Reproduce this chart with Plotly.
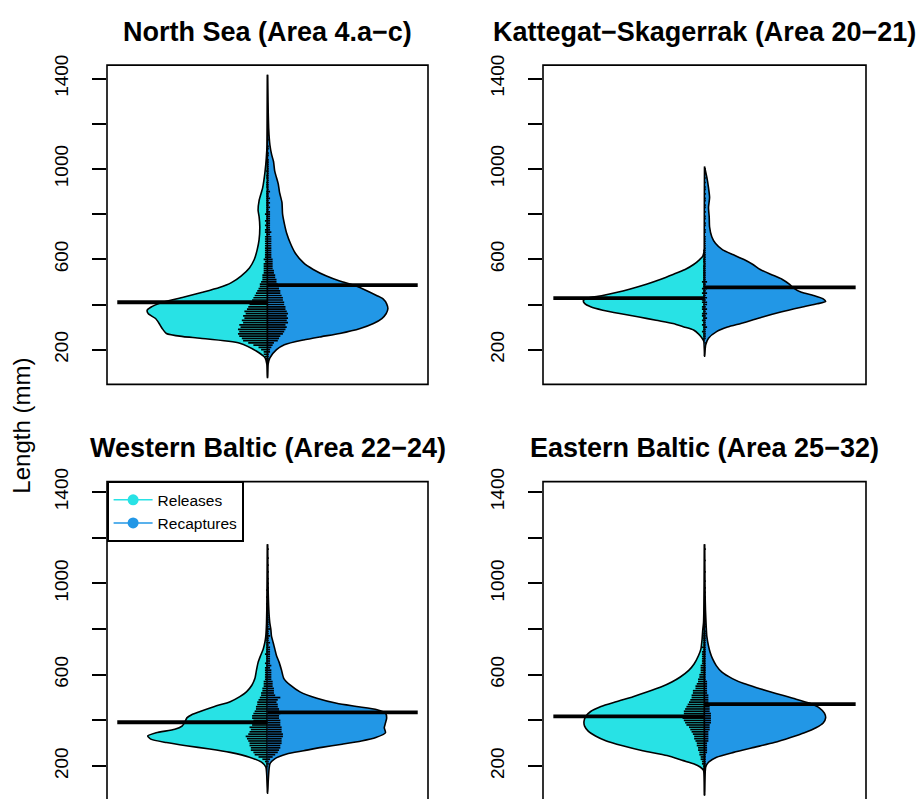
import plotly.graph_objects as go

FONT = "Liberation Sans, Arial, sans-serif"
RELEASE_COLOR = "#28E2E5"
RECAPTURE_COLOR = "#2297E6"

panel_titles = [
    "North Sea (Area 4.a\u2212c)",
    "Kattegat\u2212Skagerrak (Area 20\u221221)",
    "Western Baltic (Area 22\u221224)",
    "Eastern Baltic (Area 25\u221232)",
]
tick_values = [200, 400, 600, 800, 1000, 1200, 1400]
tick_labels = ["200", "", "600", "", "1000", "", "1400"]
y_title = "Length (mm)"
series_names = ["Releases", "Recaptures"]

# ---- bean density outlines: length (mm) and relative density ----
ns_rel_len = [77, 135, 164, 193, 229, 251, 258, 272, 294, 316, 338, 359, 374, 388, 410, 432, 454, 475, 497, 526,
              562, 599, 642, 686, 743, 790, 816, 859, 917, 990, 1048, 1106, 1200, 1417]
ns_rel_den = [0, 0.005, 0.02, 0.09, 0.23, 0.56, 0.70, 0.84, 0.875, 0.90, 0.93, 0.99, 1.0, 0.97, 0.87, 0.70, 0.54,
              0.40, 0.30, 0.22, 0.15, 0.11, 0.086, 0.07, 0.064, 0.07, 0.078, 0.07, 0.04, 0.02, 0.01, 0.004, 0.002, 0]
ns_rec_len = [77, 135, 164, 200, 222, 243, 258, 272, 294, 316, 338, 359, 381, 403, 425, 439, 461, 483, 504, 526,
              555, 584, 628, 671, 714, 758, 801, 852, 896, 932, 961, 990, 1033, 1062, 1106, 1178, 1300, 1417]
ns_rec_den = [0, 0.005, 0.02, 0.075, 0.14, 0.30, 0.45, 0.60, 0.77, 0.88, 0.95, 0.985, 1.0, 0.99, 0.96, 0.91, 0.825,
              0.73, 0.60, 0.49, 0.38, 0.30, 0.23, 0.19, 0.16, 0.14, 0.125, 0.12, 0.10, 0.09, 0.075, 0.06, 0.05,
              0.035, 0.02, 0.01, 0.004, 0]

ks_rel_len = [171, 236, 251, 270, 287, 301, 316, 330, 345, 360, 375, 390, 405, 418, 428, 439, 454, 468, 490, 512,
              533, 555, 577, 599, 613, 640]
ks_rel_den = [0, 0.005, 0.02, 0.05, 0.09, 0.17, 0.26, 0.40, 0.54, 0.70, 0.84, 0.94, 0.99, 1.0, 0.97, 0.85, 0.72,
              0.62, 0.48, 0.36, 0.26, 0.16, 0.09, 0.04, 0.015, 0]
ks_rec_len = [171, 222, 251, 280, 300, 316, 330, 345, 367, 388, 403, 413, 425, 440, 454, 475, 490, 512, 533, 555,
              577, 598, 620, 642, 671, 700, 743, 787, 830, 874, 917, 961, 1011]
ks_rec_den = [0, 0.01, 0.033, 0.10, 0.19, 0.30, 0.39, 0.48, 0.63, 0.80, 0.93, 1.0, 0.98, 0.90, 0.80, 0.73, 0.70,
              0.64, 0.55, 0.46, 0.40, 0.33, 0.24, 0.15, 0.09, 0.06, 0.042, 0.039, 0.033, 0.042, 0.033, 0.02, 0]

wb_rel_len = [81, 196, 217, 239, 260, 275, 289, 303, 318, 332, 346, 361, 375, 389, 411, 425, 439, 461, 482, 504,
              525, 554, 583, 619, 654, 683, 712, 741, 769, 827, 1000, 1171]
wb_rel_den = [0, 0.014, 0.05, 0.15, 0.31, 0.48, 0.675, 0.84, 0.97, 0.995, 0.925, 0.77, 0.71, 0.69, 0.67, 0.63,
              0.56, 0.44, 0.31, 0.23, 0.175, 0.13, 0.105, 0.092, 0.078, 0.058, 0.036, 0.022, 0.014, 0.008, 0.002, 0]
wb_rec_len = [81, 210, 232, 253, 267, 282, 296, 310, 325, 346, 368, 389, 411, 432, 447, 461, 475, 497, 525, 554,
              583, 619, 654, 683, 712, 741, 769, 798, 827, 884, 1000, 1171]
wb_rec_den = [0, 0.02, 0.06, 0.16, 0.30, 0.45, 0.62, 0.78, 0.90, 0.98, 0.97, 0.98, 0.99, 0.98, 0.91, 0.74, 0.575,
              0.41, 0.27, 0.19, 0.136, 0.117, 0.097, 0.075, 0.061, 0.047, 0.033, 0.028, 0.019, 0.011, 0.004, 0]

eb_rel_len = [74, 181, 196, 210, 224, 246, 267, 289, 310, 332, 353, 375, 396, 418, 439, 461, 482, 504, 525, 547,
              568, 590, 619, 647, 683, 712, 755, 798, 827, 1000, 1171]
eb_rel_den = [0, 0.008, 0.036, 0.09, 0.175, 0.31, 0.51, 0.675, 0.81, 0.90, 0.96, 0.99, 0.995, 0.98, 0.94, 0.855,
              0.73, 0.59, 0.47, 0.355, 0.27, 0.20, 0.13, 0.086, 0.05, 0.03, 0.02, 0.014, 0.008, 0.002, 0]
eb_rec_len = [74, 196, 217, 239, 260, 282, 303, 325, 346, 368, 389, 411, 432, 454, 475, 497, 518, 540, 561, 583,
              611, 640, 669, 697, 726, 769, 812, 884, 999, 1171]
eb_rec_den = [0, 0.01, 0.033, 0.10, 0.24, 0.41, 0.575, 0.71, 0.825, 0.92, 0.98, 1.0, 0.99, 0.95, 0.87, 0.73, 0.59,
              0.45, 0.325, 0.23, 0.144, 0.097, 0.067, 0.047, 0.033, 0.019, 0.014, 0.008, 0.003, 0]

# ---- means (mm) ----
release_means = [410, 428, 392, 418]
recapture_means = [486, 476, 435, 471]

# ---- bean lines: first length class (mm), 10 mm classes, number of fish per class ----
ns_line_start = 140
ns_rel_n = [1, 1, 2, 2, 3, 3, 5, 7, 11, 15,
            19, 20, 22, 23, 22, 23, 21, 22, 19, 20,
            18, 19, 17, 18, 16, 15, 14, 13, 12, 11,
            10, 9, 8, 7, 6, 6, 5, 4, 4, 4,
            3, 3, 3, 3, 3, 2, 3, 2, 2, 2,
            2, 2, 2, 2, 2, 2, 2, 1, 2, 2,
            1, 2, 1, 2, 1, 1, 2, 1, 1, 1,
            1, 1, 1, 1, 1, 1, 1, 0, 1, 1,
            1, 0, 1, 1, 0, 1, 0, 0, 0, 0,
            0, 0, 0, 0, 0, 0, 0, 0, 0, 0, 0, 0]
ns_rec_n = [0, 0, 1, 1, 1, 2, 2, 3, 4, 5,
            8, 9, 10, 12, 13, 14, 15, 14, 16, 15,
            16, 15, 16, 15, 14, 14, 13, 13, 12, 12,
            11, 10, 10, 9, 9, 8, 7, 7, 6, 6,
            5, 5, 4, 4, 4, 4, 4, 3, 3, 3,
            3, 3, 3, 3, 3, 3, 3, 2, 3, 2,
            2, 2, 2, 2, 2, 2, 2, 2, 1, 2,
            1, 2, 1, 2, 1, 1, 2, 1, 1, 1,
            1, 1, 1, 1, 1, 1, 1, 1, 1, 1,
            1, 0, 1, 1, 0, 1, 1, 0, 0, 1, 0, 1]

ks_line_start = 230
ks_rel_n = [0, 1, 1, 1, 1, 2, 1, 1, 2, 1,
            2, 1, 2, 2, 1, 2, 2, 1, 2, 2,
            2, 1, 2, 1, 2, 1, 1, 2, 1, 1,
            1, 1, 1, 1, 1, 0, 1, 1, 0, 1,
            0, 1, 0, 0, 0, 0, 0, 0, 0, 0,
            0, 0, 0, 0, 0, 0, 0, 0, 0, 0,
            0, 0, 0, 0, 0, 0, 0, 0, 0, 0,
            0, 0, 0, 0, 0, 0, 0, 0]
ks_rec_n = [1, 0, 1, 1, 1, 1, 1, 2, 1, 1,
            1, 2, 1, 2, 1, 2, 1, 2, 2, 1,
            2, 1, 2, 1, 2, 1, 1, 2, 1, 1,
            1, 1, 1, 1, 1, 1, 1, 1, 1, 1,
            1, 1, 1, 1, 1, 1, 1, 1, 0, 1,
            1, 0, 1, 1, 0, 1, 1, 0, 1, 0,
            1, 1, 0, 1, 1, 0, 1, 0, 1, 1,
            0, 1, 0, 1, 0, 0, 1, 1]

wb_line_start = 200
wb_rel_n = [1, 1, 2, 4, 7, 10, 11, 13, 13, 14,
            14, 15, 16, 17, 15, 14, 13, 14, 12, 12,
            11, 12, 12, 11, 10, 9, 9, 8, 8, 7,
            6, 5, 5, 4, 4, 3, 3, 3, 2, 2,
            2, 2, 2, 2, 1, 2, 1, 1, 1, 2,
            1, 1, 1, 1, 1, 1, 1, 1, 1, 1,
            1, 0, 1, 1, 0, 1, 0, 1, 0, 1,
            0, 1, 0, 0, 1, 0, 0, 1, 0, 0,
            0, 0, 0, 0, 0, 0, 0, 0, 0, 0,
            0, 0, 0, 0, 0, 0]
wb_rec_n = [0, 1, 1, 2, 4, 6, 8, 9, 10, 10,
            11, 11, 11, 12, 12, 11, 11, 11, 10, 10,
            10, 9, 9, 10, 9, 9, 8, 8, 7, 8,
            10, 6, 5, 5, 5, 4, 4, 4, 3, 3,
            3, 3, 3, 2, 3, 2, 2, 2, 2, 2,
            2, 2, 2, 1, 2, 1, 1, 2, 1, 1,
            2, 1, 1, 1, 1, 1, 1, 1, 1, 1,
            1, 1, 1, 1, 0, 1, 1, 0, 1, 0,
            1, 0, 1, 0, 0, 1, 0, 0, 1, 0,
            0, 1, 0, 0, 0, 1]

eb_line_start = 180
eb_rel_n = [1, 1, 1, 2, 2, 3, 3, 4, 4, 5,
            5, 6, 6, 7, 8, 8, 9, 10, 11, 12,
            14, 15, 16, 17, 17, 16, 16, 15, 14, 13,
            12, 11, 10, 10, 9, 9, 7, 7, 6, 5,
            5, 4, 4, 3, 3, 3, 3, 2, 2, 2,
            2, 2, 2, 1, 2, 1, 1, 1, 1, 1,
            1, 0, 1, 0, 1, 0, 1, 0, 0, 0,
            0, 0, 0, 0, 0, 0, 0, 0, 0, 0,
            0, 0, 0, 0, 0, 0, 0, 0, 0, 0,
            0, 0, 0, 0, 0, 0, 0, 0]
eb_rec_n = [0, 0, 1, 1, 1, 1, 1, 1, 2, 2,
            2, 2, 2, 3, 3, 3, 3, 3, 4, 4,
            4, 5, 5, 5, 5, 5, 4, 4, 4, 4,
            3, 3, 3, 3, 2, 2, 2, 2, 2, 2,
            1, 1, 1, 1, 1, 1, 1, 1, 1, 1,
            1, 1, 1, 1, 1, 1, 1, 1, 1, 1,
            1, 1, 0, 1, 1, 0, 1, 0, 1, 1,
            0, 1, 0, 1, 0, 0, 1, 0, 1, 0,
            1, 0, 0, 1, 0, 0, 0, 1, 0, 0,
            0, 0, 1, 0, 0, 0, 0, 1]

CLASS_WIDTH = 10

panels = [
    dict(rel=(ns_rel_len, ns_rel_den), rec=(ns_rec_len, ns_rec_den), start=ns_line_start, rel_n=ns_rel_n, rec_n=ns_rec_n),
    dict(rel=(ks_rel_len, ks_rel_den), rec=(ks_rec_len, ks_rec_den), start=ks_line_start, rel_n=ks_rel_n, rec_n=ks_rec_n),
    dict(rel=(wb_rel_len, wb_rel_den), rec=(wb_rec_len, wb_rec_den), start=wb_line_start, rel_n=wb_rel_n, rec_n=wb_rec_n),
    dict(rel=(eb_rel_len, eb_rel_den), rec=(eb_rec_len, eb_rec_den), start=eb_line_start, rel_n=eb_rel_n, rec_n=eb_rec_n),
]

# ---- geometry / style ----
W, H = 922, 799
CENTER = 1.0
HALF_WIDTH = 0.375      # max half width of each bean side (x units)
MEAN_HALF = 0.468       # length of each mean line (x units)
LINE_UNIT = 0.004       # bean-line length per fish (x units)
col_px = [(107, 428), (543, 866)]
row_px = [(52, 377), (476, 799)]
row_range = [[46.5, 1459.6], [56, 1445]]

fig = go.Figure()
layout_axes = {}
shapes = []
annotations = []

for i, p in enumerate(panels):
    s = "" if i == 0 else str(i + 1)
    xa, ya = "x" + s, "y" + s
    r, c = divmod(i, 2)

    for side, (lens, dens), color in (("rel", p["rel"], RELEASE_COLOR), ("rec", p["rec"], RECAPTURE_COLOR)):
        sign = -1 if side == "rel" else 1
        xs = [CENTER + sign * HALF_WIDTH * d for d in dens] + [CENTER, CENTER]
        ys = list(lens) + [lens[-1], lens[0]]
        fig.add_trace(go.Scatter(x=xs, y=ys, mode="lines", fill="toself", fillcolor=color,
                                 line=dict(color="black", width=1.6, shape="spline", smoothing=0.6),
                                 xaxis=xa, yaxis=ya, showlegend=False, hoverinfo="skip"))

    for key, sign in (("rel_n", -1), ("rec_n", 1)):
        bx, by = [], []
        for k, n in enumerate(p[key]):
            if n <= 0:
                continue
            v = p["start"] + CLASS_WIDTH * k
            bx += [CENTER, CENTER + sign * LINE_UNIT * n, None]
            by += [v, v, None]
        fig.add_trace(go.Scatter(x=bx, y=by, mode="lines", line=dict(color="black", width=1.7),
                                 xaxis=xa, yaxis=ya, showlegend=False, hoverinfo="skip"))

    fig.add_trace(go.Scatter(x=[CENTER - MEAN_HALF, CENTER, None, CENTER, CENTER + MEAN_HALF],
                             y=[release_means[i], release_means[i], None, recapture_means[i], recapture_means[i]],
                             mode="lines", line=dict(color="black", width=3.8),
                             xaxis=xa, yaxis=ya, showlegend=False, hoverinfo="skip"))

    x0, x1 = col_px[c]
    y0, y1 = row_px[r]
    layout_axes["xaxis" + s] = dict(domain=[x0 / W, x1 / W], range=[0.5, 1.5], anchor=ya,
                                    showticklabels=False, ticks="", showgrid=False, zeroline=False, showline=False)
    layout_axes["yaxis" + s] = dict(domain=[1 - y1 / H, 1 - y0 / H], range=row_range[r], anchor=xa,
                                    tickvals=tick_values, ticktext=tick_labels, ticks="outside", ticklen=14,
                                    tickwidth=1.5, tickcolor="black", tickangle=-90, ticklabelstandoff=16,
                                    tickfont=dict(size=19, color="black", family=FONT),
                                    showgrid=False, zeroline=False, showline=False)
    shapes.append(dict(type="rect", xref=xa + " domain", yref=ya + " domain", x0=0, x1=1,
                       y0=(0 if r == 0 else -0.02), y1=1, line=dict(color="black", width=1.6), layer="above"))
    annotations.append(dict(text=panel_titles[i], xref="paper", yref="paper", x=(x0 + x1) / 2 / W,
                            y=1 - (y0 - 34) / H, xanchor="center", yanchor="middle", showarrow=False,
                            font=dict(size=27, color="black", family=FONT, weight="bold")))

annotations.append(dict(text=y_title, xref="paper", yref="paper", x=22 / W, y=1 - 419 / H, textangle=-90,
                        xanchor="center", yanchor="middle", showarrow=False,
                        font=dict(size=24, color="black", family=FONT)))

# legend entries
for name, color in zip(series_names, (RELEASE_COLOR, RECAPTURE_COLOR)):
    fig.add_trace(go.Scatter(x=[None], y=[None], mode="lines+markers", name=name,
                             line=dict(color=color, width=1.5), marker=dict(color=color, size=11),
                             xaxis="x3", yaxis="y3", showlegend=True))

fig.update_layout(
    width=W, height=H, margin=dict(l=0, r=0, t=0, b=0),
    plot_bgcolor="white", paper_bgcolor="white",
    shapes=shapes, annotations=annotations,
    legend=dict(x=107 / W, y=1 - 476 / H, xanchor="left", yanchor="top", bgcolor="white",
                bordercolor="black", borderwidth=1.6, font=dict(size=15.5, color="black", family=FONT),
                tracegroupgap=0, itemwidth=39),
    **layout_axes,
)

POST = ("document.body.style.margin='0';document.body.style.padding='0';"
        "document.body.style.overflow='hidden';"
        "var gd=document.getElementsByClassName('plotly-graph-div')[0];"
        "gd.style.position='absolute';gd.style.top='0px';gd.style.left='0px';")
fig.write_html("out.html", config={"displayModeBar": False}, post_script=POST)
